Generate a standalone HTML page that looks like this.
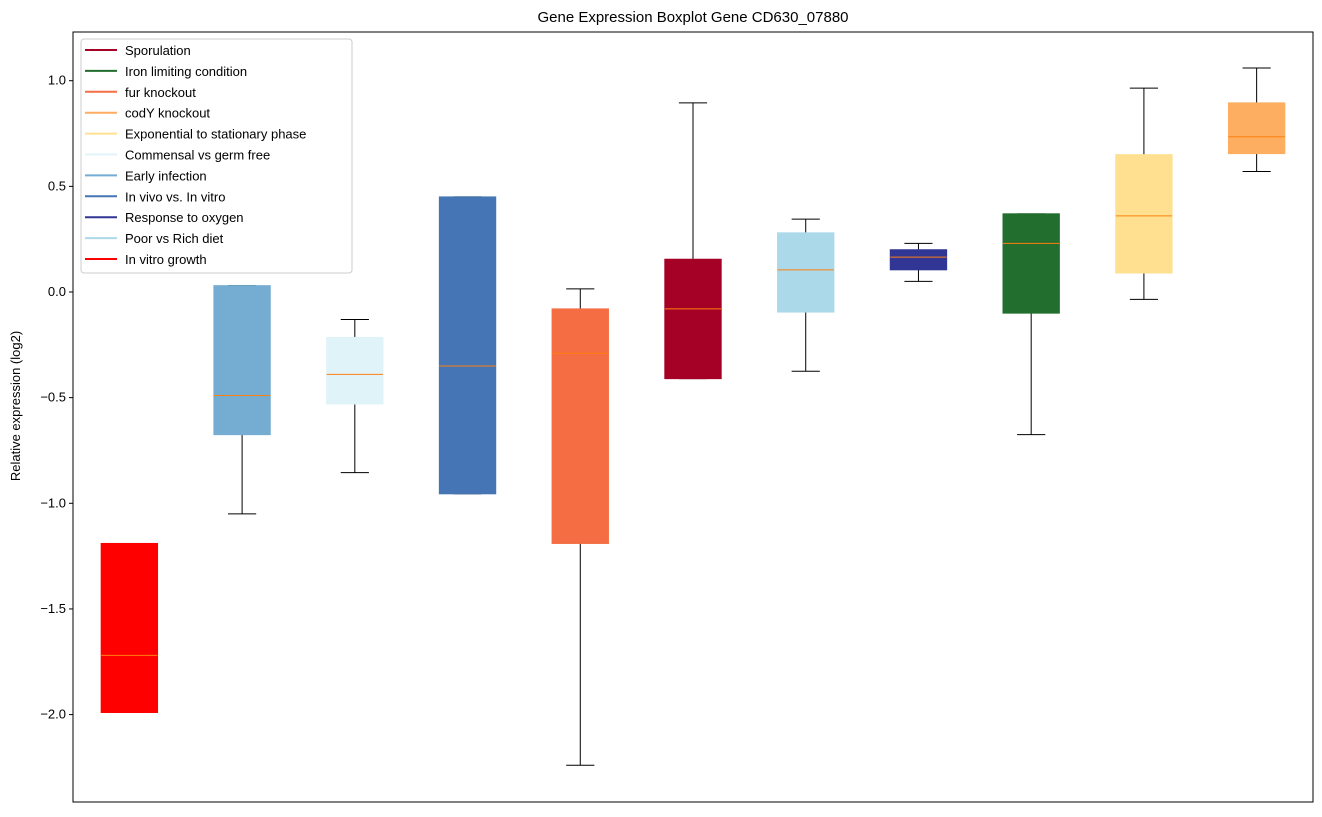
<!DOCTYPE html>
<html><head><meta charset="utf-8"><style>
body{margin:0;background:#fff;font-family:"Liberation Sans",sans-serif;}
svg text{font-family:"Liberation Sans",sans-serif;}
</style></head><body>
<svg id="chart" width="1322" height="812" xmlns="http://www.w3.org/2000/svg">
<rect width="1322" height="812" fill="#fff"/>
<g id="boxes"></g>
<g id="axes"></g>
<text x="693" y="22" text-anchor="middle" font-size="15">Gene Expression Boxplot Gene CD630_07880</text>
<text transform="translate(20,406) rotate(-90)" text-anchor="middle" font-size="13">Relative expression (log2)</text>
<g id="legend"></g>
</svg>
<script>
const categories=["In vitro growth","Early infection","Commensal vs germ free","In vivo vs. In vitro","fur knockout","Sporulation","Poor vs Rich diet","Response to oxygen","Iron limiting condition","Exponential to stationary phase","codY knockout"];
const colors=["#ff0000","#74add1","#e0f3f8","#4575b4","#f46d43","#a50026","#abd9e9","#313695","#226e2e","#fee090","#fdae61"];
const whiskerLow=[-1.99,-1.05,-0.855,-0.955,-2.24,-0.41,-0.375,0.05,-0.675,-0.035,0.57];
const q1=[-1.99,-0.675,-0.53,-0.955,-1.19,-0.41,-0.095,0.105,-0.1,0.09,0.655];
const medians=[-1.72,-0.49,-0.39,-0.35,-0.29,-0.08,0.105,0.165,0.23,0.36,0.735];
const q3=[-1.19,0.03,-0.215,0.45,-0.08,0.155,0.28,0.2,0.37,0.65,0.895];
const whiskerHigh=[-1.19,0.03,-0.13,0.45,0.015,0.895,0.345,0.23,0.37,0.965,1.06];
const yTicks=[-2.0,-1.5,-1.0,-0.5,0.0,0.5,1.0];
const legendLabels=["Sporulation","Iron limiting condition","fur knockout","codY knockout","Exponential to stationary phase","Commensal vs germ free","Early infection","In vivo vs. In vitro","Response to oxygen","Poor vs Rich diet","In vitro growth"];
const legendColors=["#a50026","#226e2e","#f46d43","#fdae61","#fee090","#e0f3f8","#74add1","#4575b4","#313695","#abd9e9","#ff0000"];

const L=73,R=1313,T=32,B=802;
const ns="http://www.w3.org/2000/svg";
function x(i){return L+(i+0.5)*(R-L)/categories.length;}
function y(v){return 292-211.3*v;}
function mk(t,a,p){const e=document.createElementNS(ns,t);for(const k in a)e.setAttribute(k,a[k]);p.appendChild(e);return e;}
const bg=document.getElementById('boxes');
const bw=(R-L)/categories.length*0.5;
categories.forEach((c,i)=>{
  const cx=x(i);
  const g=mk('g',{},bg);
  
  
  mk('line',{x1:cx,x2:cx,y1:y(whiskerLow[i]),y2:y(q1[i]),stroke:'#000','stroke-width':1},g);
  mk('line',{x1:cx,x2:cx,y1:y(q3[i]),y2:y(whiskerHigh[i]),stroke:'#000','stroke-width':1},g);
  mk('line',{x1:cx-bw/4,x2:cx+bw/4,y1:y(whiskerLow[i]),y2:y(whiskerLow[i]),stroke:'#000','stroke-width':1},g);
  mk('line',{x1:cx-bw/4,x2:cx+bw/4,y1:y(whiskerHigh[i]),y2:y(whiskerHigh[i]),stroke:'#000','stroke-width':1},g);
  mk('rect',{x:cx-bw/2,y:y(q3[i]),width:bw,height:Math.max(1,y(q1[i])-y(q3[i])),fill:colors[i],stroke:colors[i]},g);
  mk('line',{x1:cx-bw/2,x2:cx+bw/2,y1:y(medians[i]),y2:y(medians[i]),stroke:'#ff7f0e','stroke-width':1},g);
});
const ax=document.getElementById('axes');
mk('rect',{x:L,y:T,width:R-L,height:B-T,fill:'none',stroke:'#000','stroke-width':1},ax);
yTicks.forEach(v=>{
  mk('line',{x1:L-4,x2:L,y1:y(v),y2:y(v),stroke:'#000'},ax);
  const t=mk('text',{x:L-7,y:y(v)+4,'text-anchor':'end','font-size':13},ax);
  t.textContent=v.toFixed(1).replace('-','\u2212');
  
  
});
const lg=document.getElementById('legend');
mk('rect',{x:81,y:39,width:271,height:234,rx:3,fill:'#fff','fill-opacity':0.8,stroke:'#ccc'},lg);
legendLabels.forEach((l,i)=>{
  const yy=50+i*20.9;
  const g=mk('g',{},lg);
  
  
  mk('line',{x1:85,x2:117,y1:yy,y2:yy,stroke:legendColors[i],'stroke-width':2},g);
  const t=mk('text',{x:125,y:yy+5,'font-size':13},g);
  t.textContent=l;
});
</script>
</body></html>
